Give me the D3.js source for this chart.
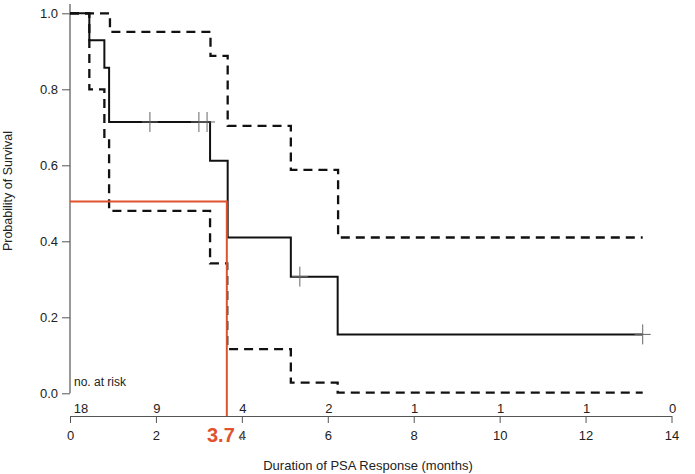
<!DOCTYPE html>
<html>
<head>
<meta charset="utf-8">
<script src="https://cdn.jsdelivr.net/npm/d3@7"></script>
<style>
  html, body { margin: 0; padding: 0; background: #fff; }
  svg { display: block; }
  text { font-family: "Liberation Sans", Arial, sans-serif; fill: #222; }
</style>
</head>
<body>
<svg id="chart" width="695" height="474"></svg>
<script>
// ---- Data ----
const kmTimes  = [0, 0.45, 0.80, 0.91, 3.26, 3.67, 5.14, 6.23, 13.33];
const kmSurv   = [1.0, 0.929, 0.857, 0.714, 0.612, 0.410, 0.307, 0.155, 0.155];

const upTimes  = [0, 0.93, 3.27, 3.67, 5.14, 6.24, 13.33];
const upSurv   = [1.0, 0.951, 0.888, 0.704, 0.588, 0.410, 0.410];

const loTimes  = [0, 0.45, 0.80, 0.91, 3.26, 3.66, 5.14, 6.23, 13.33];
const loSurv   = [1.0, 0.800, 0.675, 0.480, 0.342, 0.116, 0.028, 0.002, 0.002];

const censorTimes = [1.86, 3.00, 3.19, 5.35, 13.33];
const censorSurv  = [0.714, 0.714, 0.714, 0.307, 0.155];

const medianTime = 3.65;
const medianSurv = 0.505;
const medianLabel = "3.7";

const xTicks = [0, 2, 4, 6, 8, 10, 12, 14];
const yTicks = [0, 0.2, 0.4, 0.6, 0.8, 1.0];
const riskTimes  = [0, 2, 4, 6, 8, 10, 12, 14];
const riskCounts = ["18", "9", "4", "2", "1", "1", "1", "0"];

// ---- Layout ----
const svg = d3.select("#chart");
const x = d3.scaleLinear().domain([0, 14]).range([70, 671.5]);
const y = d3.scaleLinear().domain([0, 1]).range([393.3, 13.3]);
const xAxisY = 416;
const axisColor = "#555";

const line = d3.line()
  .x(d => x(d[0])).y(d => y(d[1]))
  .curve(d3.curveStepAfter);

const zip = (a, b) => a.map((v, i) => [v, b[i]]);

// ---- Y axis ----
const yAxis = svg.append("g")
  .attr("transform", `translate(${x(0)},0)`)
  .call(d3.axisLeft(y).tickValues(yTicks).tickFormat(d3.format(".1f")).tickSize(8).tickPadding(4));
yAxis.select(".domain").remove();
yAxis.selectAll("line").attr("stroke", axisColor);
yAxis.selectAll("text").attr("font-size", 13).attr("fill", "#222")
  .attr("font-family", "Liberation Sans, Arial, sans-serif");
svg.append("line")
  .attr("x1", x(0)).attr("x2", x(0))
  .attr("y1", 4).attr("y2", y(0))
  .attr("stroke", axisColor).attr("stroke-width", 1.2);

// ---- X axis ----
const xAxis = svg.append("g")
  .attr("transform", `translate(0,${xAxisY})`)
  .call(d3.axisBottom(x).tickValues(xTicks).tickFormat(d3.format("d")).tickSize(7).tickSizeOuter(0).tickPadding(8));
xAxis.select(".domain").attr("stroke", axisColor).attr("stroke-width", 1.2);
xAxis.selectAll("line").attr("stroke", axisColor);
xAxis.selectAll("text").attr("font-size", 13).attr("fill", "#222")
  .attr("font-family", "Liberation Sans, Arial, sans-serif");

// ---- Number at risk ----
svg.append("text")
  .attr("x", x(0) + 4).attr("y", 386)
  .attr("font-size", 12)
  .text("no. at risk");
svg.append("g").selectAll("text")
  .data(zip(riskTimes, riskCounts))
  .join("text")
  .attr("x", (d, i) => i === 0 ? x(d[0]) + 11 : x(d[0]) + 1)
  .attr("y", 413)
  .attr("text-anchor", "middle")
  .attr("font-size", 13)
  .text(d => d[1]);

// ---- Confidence bands (dashed) ----
svg.append("path")
  .datum(zip(upTimes, upSurv))
  .attr("d", line)
  .attr("fill", "none").attr("stroke", "#111")
  .attr("stroke-width", 2.3).attr("stroke-dasharray", "9,6");
svg.append("path")
  .datum(zip(loTimes, loSurv))
  .attr("d", line)
  .attr("fill", "none").attr("stroke", "#111")
  .attr("stroke-width", 2.3).attr("stroke-dasharray", "9,6");

// ---- KM curve ----
svg.append("path")
  .datum(zip(kmTimes, kmSurv))
  .attr("d", line)
  .attr("fill", "none").attr("stroke", "#111")
  .attr("stroke-width", 2);

// ---- Censor marks ----
const cens = svg.append("g").selectAll("g")
  .data(zip(censorTimes, censorSurv))
  .join("g")
  .attr("transform", d => `translate(${x(d[0])},${y(d[1])})`);
cens.append("line").attr("x1", 0).attr("x2", 0).attr("y1", -10).attr("y2", 10)
  .attr("stroke", "#666").attr("stroke-width", 1);
cens.append("line").attr("x1", -8).attr("x2", 8).attr("y1", 0).attr("y2", 0)
  .attr("stroke", "#666").attr("stroke-width", 1);

// ---- Median marker ----
const red = "#E0532C";
svg.append("path")
  .attr("d", `M${x(0)},${y(medianSurv)}H${x(medianTime)}V${xAxisY}`)
  .attr("fill", "none").attr("stroke", red).attr("stroke-width", 2);
svg.append("text")
  .attr("x", x(medianTime) + 8).attr("y", 442)
  .attr("text-anchor", "end")
  .attr("font-size", 20).attr("font-weight", "bold")
  .style("fill", red)
  .text(medianLabel);
svg.append("text")
  .attr("x", x(medianTime) + 10).attr("y", 440)
  .attr("font-size", 11).style("fill", "#666")
  .text("\u21B2");

// ---- Axis titles ----
svg.append("text")
  .attr("x", 368).attr("y", 470)
  .attr("text-anchor", "middle")
  .attr("font-size", 13)
  .text("Duration of PSA Response (months)");
svg.append("text")
  .attr("transform", "translate(12,191) rotate(-90)")
  .attr("text-anchor", "middle")
  .attr("font-size", 12.5)
  .text("Probability of Survival");
</script>
</body>
</html>
